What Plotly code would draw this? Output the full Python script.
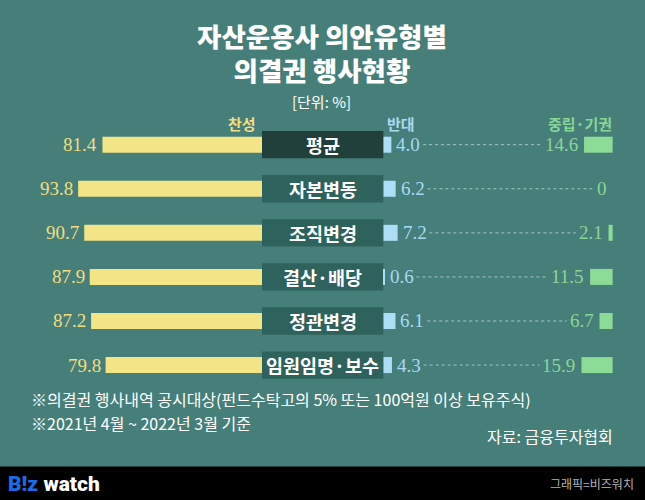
import plotly.graph_objects as go

# ---------------- data ----------------
categories = ["평균", "자본변동", "조직변경", "결산·배당", "정관변경", "임원임명·보수"]
yes_vals = [81.4, 93.8, 90.7, 87.9, 87.2, 79.8]
no_vals = [4.0, 6.2, 7.2, 0.6, 6.1, 4.3]
neutral_vals = [14.6, 0, 2.1, 11.5, 6.7, 15.9]
yes_labels = ["81.4", "93.8", "90.7", "87.9", "87.2", "79.8"]
no_labels = ["4.0", "6.2", "7.2", "0.6", "6.1", "4.3"]
neutral_labels = ["14.6", "0", "2.1", "11.5", "6.7", "15.9"]

# ---------------- layout constants ----------------
W, H = 645, 500
PX = 1.96               # pixels per percentage point
ORIGIN = 262            # pixel x of the label column's left edge
BOX_W = 61.9            # label box width in units
NO_START = 62.0         # start of "반대" bars (units)
NEU_END = 178.9         # right end of "중립·기권" bars (units)
ROW0 = 144.7            # pixel y of first row centre
ROW_STEP = 44.07        # pixel distance between rows

BG = "#467F7A"
YELLOW_BAR = "#F3E485"
YELLOW_TXT = "#F1DE7C"
BLUE_BAR = "#AEDEF6"
BLUE_TXT = "#A9D9F1"
GREEN_BAR = "#8CDB97"
GREEN_TXT = "#89D596"
BOX_DARK = "#213F3B"
BOX = "#2E625D"
DOT = "#A7C6C2"

KR = "Noto Sans CJK KR"
SERIF = "Liberation Serif"
NUM_SIZE = 19


def u(px):
    return px / PX


def text_w(s):
    return sum(NUM_SIZE * 0.5 if ch.isdigit() else NUM_SIZE * 0.25 for ch in s)


fig = go.Figure()

# label boxes
fig.add_trace(go.Bar(
    orientation="h", y=categories, x=[BOX_W] * len(categories), base=0,
    width=27.3 / ROW_STEP,
    marker=dict(color=[BOX_DARK] + [BOX] * (len(categories) - 1), line=dict(width=0)),
    hoverinfo="skip", showlegend=False))

bar_w = 16 / ROW_STEP
# 찬성 bars (growing leftwards)
fig.add_trace(go.Bar(
    orientation="h", y=categories, x=yes_vals, base=[-v for v in yes_vals],
    width=bar_w, marker=dict(color=YELLOW_BAR, line=dict(width=0)),
    showlegend=False, name="찬성"))
# 반대 bars
fig.add_trace(go.Bar(
    orientation="h", y=categories, x=no_vals, base=NO_START,
    width=bar_w, marker=dict(color=BLUE_BAR, line=dict(width=0)),
    showlegend=False, name="반대"))
# 중립·기권 bars (right aligned)
fig.add_trace(go.Bar(
    orientation="h", y=categories, x=neutral_vals, base=[NEU_END - v for v in neutral_vals],
    width=bar_w, marker=dict(color=GREEN_BAR, line=dict(width=0)),
    showlegend=False, name="중립·기권"))

# dotted leader lines
for c, n, nl, z, zl in zip(categories, no_vals, no_labels, neutral_vals, neutral_labels):
    x0 = NO_START + n + u(4 + text_w(nl) + 4)
    x1 = NEU_END - z - u(5 + text_w(zl) + 4)
    fig.add_trace(go.Scatter(
        x=[x0, x1], y=[c, c], mode="lines",
        line=dict(color=DOT, width=1, dash="dot"),
        hoverinfo="skip", showlegend=False))

ann = []
for c, v, vl, n, nl, z, zl in zip(categories, yes_vals, yes_labels, no_vals, no_labels,
                                  neutral_vals, neutral_labels):
    ann.append(dict(x=-v - u(3), y=c, text=vl, xanchor="right", yanchor="middle",
                    showarrow=False, font=dict(family=SERIF, size=NUM_SIZE, color=YELLOW_TXT)))
    ann.append(dict(x=NO_START + n + u(3), y=c, text=nl, xanchor="left", yanchor="middle",
                    showarrow=False, font=dict(family=SERIF, size=NUM_SIZE, color=BLUE_TXT)))
    ann.append(dict(x=NEU_END - z - u(4), y=c, text=zl, xanchor="right", yanchor="middle",
                    showarrow=False, font=dict(family=SERIF, size=NUM_SIZE, color=GREEN_TXT)))
    ann.append(dict(x=BOX_W / 2, y=c, text=c, xanchor="center", yanchor="middle",
                    showarrow=False, font=dict(family=KR, size=18.5, color="white", weight=700)))


def py(p):
    return 1 - p / H


def px_(p):
    return p / W


# headers
ann.append(dict(x=u(258 - ORIGIN), xref="x", y=py(123), yref="paper", text="찬성",
                xanchor="right", yanchor="middle", showarrow=False,
                font=dict(family=KR, size=15, color=YELLOW_TXT, weight=700)))
ann.append(dict(x=u(385 - ORIGIN), xref="x", y=py(123), yref="paper", text="반대",
                xanchor="left", yanchor="middle", showarrow=False,
                font=dict(family=KR, size=15, color=BLUE_TXT, weight=700)))
ann.append(dict(x=u(614 - ORIGIN), xref="x", y=py(123), yref="paper", text="중립·기권",
                xanchor="right", yanchor="middle", showarrow=False,
                font=dict(family=KR, size=15, color=GREEN_TXT, weight=700)))

# title (two lines in one block)
ann.append(dict(x=px_(321.5), y=py(52.5), xref="paper", yref="paper",
                text="자산운용사 의안유형별<br>의결권 행사현황",
                xanchor="center", yanchor="middle", align="center", showarrow=False,
                font=dict(family=KR, size=26.5, color="white", weight=900)))
ann.append(dict(x=px_(321), y=py(102), xref="paper", yref="paper", text="[단위: %]",
                xanchor="center", yanchor="middle", showarrow=False,
                font=dict(family=KR, size=15, color="white")))

# footnotes
ann.append(dict(x=px_(29), y=py(399), xref="paper", yref="paper",
                text="※의결권 행사내역 공시대상(펀드수탁고의 5% 또는 100억원 이상 보유주식)",
                xanchor="left", yanchor="middle", showarrow=False,
                font=dict(family=KR, size=16, color="white")))
ann.append(dict(x=px_(29), y=py(423), xref="paper", yref="paper",
                text="※2021년 4월 ~ 2022년 3월 기준",
                xanchor="left", yanchor="middle", showarrow=False,
                font=dict(family=KR, size=16, color="white")))
ann.append(dict(x=px_(615), y=py(436), xref="paper", yref="paper",
                text="자료: 금융투자협회",
                xanchor="right", yanchor="middle", showarrow=False,
                font=dict(family=KR, size=16, color="white")))

# bottom band texts
ann.append(dict(x=px_(6), y=py(484), xref="paper", yref="paper",
                text="<span style='color:#1C6CE8'>B!z</span> watch",
                xanchor="left", yanchor="middle", showarrow=False,
                font=dict(family="Roboto", size=21, color="white", weight=900)))
ann.append(dict(x=px_(636), y=py(483), xref="paper", yref="paper",
                text="그래픽=비즈워치",
                xanchor="right", yanchor="middle", showarrow=False,
                font=dict(family=KR, size=12, color="#B4B4B4")))

y_top = -ROW0 / ROW_STEP
y_bottom = y_top + H / ROW_STEP

fig.update_layout(
    width=W, height=H,
    margin=dict(l=0, r=0, t=0, b=0),
    paper_bgcolor=BG, plot_bgcolor="rgba(0,0,0,0)",
    barmode="overlay",
    xaxis=dict(range=[-ORIGIN / PX, (W - ORIGIN) / PX], visible=False, fixedrange=True),
    yaxis=dict(type="category", categoryorder="array", categoryarray=categories,
               range=[y_bottom, y_top], visible=False, fixedrange=True),
    annotations=ann,
    shapes=[dict(type="rect", xref="paper", yref="paper", x0=0, x1=1,
                 y0=0, y1=py(466.5), fillcolor="black", line=dict(width=0), layer="below")],
    showlegend=False,
)

fig.write_html(
    "out.html",
    config={"displayModeBar": False},
    post_script="document.body.style.margin='0';document.body.style.overflow='hidden';",
)
